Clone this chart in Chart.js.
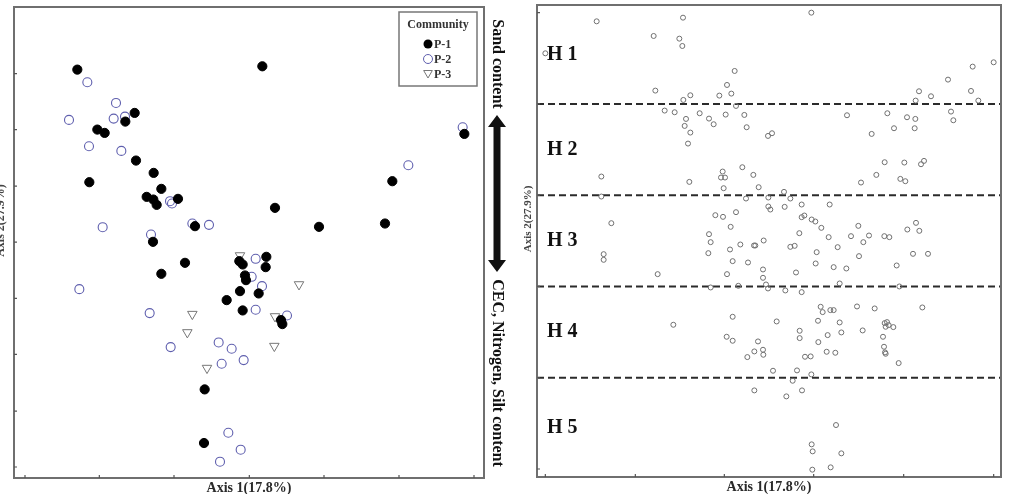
<!DOCTYPE html>
<html>
<head>
<meta charset="utf-8">
<title>NMS ordination of sites</title>
<script src="https://cdn.jsdelivr.net/npm/chart.js@4.4.1/dist/chart.umd.min.js"></script>
<style>
  html, body { margin: 0; padding: 0; background: #fff; }
  body { width: 1010px; height: 494px; position: relative; overflow: hidden; }
  #left { position: absolute; left: 0; top: 0; }
  #right { position: absolute; left: 515px; top: 0; }
</style>
</head>
<body>
<canvas id="left" width="515" height="494"></canvas>
<canvas id="right" width="495" height="494"></canvas>
<script>
/* global Chart */

// ---- left panel: sites by community (axis 1 / axis 2 scores) ----
const p1Sites = [
  [-5.18, 5.40], [0.37, 5.50], [-3.46, 4.10], [-3.74, 3.84], [-4.58, 3.60], [-4.36, 3.50],
  [6.43, 3.47], [-3.42, 2.67], [-2.89, 2.30], [-4.82, 2.02], [-2.66, 1.82], [4.27, 2.05],
  [-3.10, 1.58], [-2.90, 1.50], [-2.80, 1.34], [-2.16, 1.52], [0.75, 1.25], [-1.65, 0.70],
  [2.07, 0.68], [4.05, 0.78], [-2.91, 0.23], [-1.95, -0.40], [-2.66, -0.73], [-0.32, -0.35],
  [-0.22, -0.45], [0.49, -0.22], [0.47, -0.53], [-0.15, -0.78], [-0.12, -0.92], [-0.30, -1.25],
  [0.26, -1.32], [-0.70, -1.52], [-0.22, -1.83], [0.93, -2.12], [0.97, -2.24], [-1.36, -4.20],
  [-1.38, -5.81]
];
const p2Sites = [
  [-4.88, 5.02], [-4.02, 4.40], [-5.43, 3.89], [-4.09, 3.93], [-3.75, 3.99], [6.38, 3.67],
  [-4.83, 3.10], [-3.86, 2.96], [4.75, 2.53], [-2.40, 1.45], [-2.34, 1.38], [-4.42, 0.67],
  [-1.73, 0.78], [-1.23, 0.74], [-2.97, 0.45], [0.17, -0.28], [0.05, -0.82], [0.36, -1.10],
  [-5.12, -1.19], [-3.01, -1.91], [0.17, -1.81], [1.11, -1.98], [-2.38, -2.93], [-0.94, -2.79],
  [-0.55, -2.98], [-0.85, -3.43], [-0.19, -3.32], [-0.65, -5.50], [-0.28, -6.01], [-0.90, -6.37]
];
const p3Sites = [
  [-0.30, -0.18], [1.47, -1.05], [-1.73, -1.94], [-1.88, -2.49], [0.75, -2.01], [0.73, -2.90],
  [-1.29, -3.56]
];
const communityNames = ["P-1", "P-2", "P-3"];
const leftXRange = [-7.08, 7.02];
const leftYRange = [-6.86, 7.28];
const leftXTicks = [-6.75, -4.52, -2.28, -0.02, 2.22, 4.47, 6.72];
const leftYTicks = [5.28, 3.60, 1.90, 0.22, -1.47, -3.15, -4.85, -6.53];

// ---- right panel: plots grouped by habitat zone ----
const h1Plots = [
  [-8.05, 7.00], [-6.51, 7.96], [-3.92, 8.07], [-4.80, 7.52], [-4.03, 7.44], [-3.94, 7.22],
  [-0.07, 8.22], [-2.37, 6.47], [-2.60, 6.05], [-2.47, 5.79], [-2.83, 5.73], [-4.75, 5.88],
  [-3.91, 5.60], [-3.70, 5.74], [5.40, 6.73], [4.77, 6.60], [4.03, 6.21], [4.72, 5.87],
  [3.16, 5.86], [3.52, 5.71], [3.06, 5.58], [4.94, 5.58]
];
const h2Plots = [
  [-2.33, 5.42], [-4.47, 5.28], [-4.17, 5.23], [-3.83, 5.03], [-3.87, 4.82], [-3.70, 4.62],
  [-3.77, 4.29], [-3.42, 5.20], [-3.14, 5.04], [-3.00, 4.87], [-2.64, 5.16], [-2.08, 5.15],
  [-2.01, 4.78], [-1.37, 4.52], [-1.25, 4.60], [1.00, 5.14], [2.21, 5.20], [2.80, 5.08],
  [3.05, 5.03], [2.41, 4.75], [3.03, 4.75], [1.74, 4.58], [4.12, 5.25], [4.19, 4.99],
  [-6.37, 3.30], [-3.73, 3.14], [-2.73, 3.45], [-2.78, 3.27], [-2.66, 3.27], [-2.70, 2.95],
  [-2.14, 3.58], [-1.81, 3.35], [-1.65, 2.98], [2.13, 3.73], [2.72, 3.72], [3.22, 3.67],
  [3.31, 3.77], [1.88, 3.35], [1.42, 3.12], [2.60, 3.23], [2.75, 3.16]
];
const h3Plots = [
  [-6.37, 2.70], [-2.03, 2.64], [-1.36, 2.67], [-1.36, 2.40], [-1.30, 2.31], [-0.89, 2.84],
  [-0.70, 2.64], [-0.87, 2.39], [-6.07, 1.90], [-6.30, 0.97], [-6.30, 0.80], [-4.68, 0.37],
  [-2.95, 2.14], [-2.72, 2.09], [-2.33, 2.23], [-2.49, 1.79], [-3.14, 1.57], [-3.09, 1.33],
  [-3.16, 1.00], [-2.20, 1.26], [-1.79, 1.23], [-1.75, 1.23], [-1.50, 1.38], [-2.43, 0.76],
  [-2.51, 1.11], [-1.97, 0.72], [-2.60, 0.37], [-1.52, 0.51], [-1.52, 0.26], [-1.43, 0.06],
  [-1.37, -0.06], [-3.09, -0.03], [-2.26, 0.02], [-0.36, 2.46], [-0.36, 2.08], [-0.28, 2.13],
  [-0.06, 2.01], [0.05, 1.95], [0.23, 1.76], [-0.43, 1.60], [0.48, 2.46], [0.45, 1.48],
  [-0.70, 1.19], [-0.57, 1.22], [0.09, 1.03], [0.72, 1.18], [1.12, 1.51], [1.34, 1.82],
  [1.66, 1.53], [1.49, 1.33], [2.12, 1.51], [2.27, 1.48], [2.81, 1.71], [3.07, 1.91],
  [3.17, 1.67], [1.36, 0.91], [0.06, 0.69], [0.60, 0.58], [0.98, 0.54], [-0.53, 0.42],
  [2.98, 0.98], [3.43, 0.98], [2.49, 0.63], [0.78, 0.09], [-0.85, -0.12], [-0.36, -0.17],
  [2.57, 0.00]
];
const h4Plots = [
  [-4.21, -1.15], [-2.43, -0.91], [-2.61, -1.51], [-2.43, -1.63], [-1.67, -1.65], [-1.78, -1.95],
  [-1.52, -1.90], [-1.51, -2.05], [-1.99, -2.12], [-1.22, -2.53], [-1.78, -3.12], [-1.11, -1.05],
  [0.21, -0.61], [0.27, -0.77], [0.50, -0.71], [0.60, -0.71], [0.13, -1.03], [-0.42, -1.33],
  [-0.42, -1.55], [0.42, -1.46], [0.78, -1.08], [0.83, -1.38], [1.30, -0.60], [1.83, -0.66],
  [1.47, -1.32], [0.14, -1.67], [0.39, -1.96], [0.65, -1.99], [-0.26, -2.11], [-0.09, -2.10],
  [-0.50, -2.52], [-0.07, -2.64], [-0.63, -2.83], [-0.82, -3.30], [-0.35, -3.12], [2.13, -1.10],
  [2.20, -1.07], [2.25, -1.16], [2.39, -1.22], [2.16, -1.21], [2.08, -1.51], [2.11, -1.81],
  [2.14, -1.98], [2.16, -2.02], [2.55, -2.30], [3.26, -0.63]
];
const h5Plots = [
  [0.67, -4.16], [-0.06, -4.74], [-0.03, -4.95], [0.83, -5.01], [-0.04, -5.50], [0.51, -5.43]
];
const zoneNames = ["H 1", "H 2", "H 3", "H 4", "H 5"];
const zoneBreaks = [5.48, 2.74, 0, -2.74];
const rightXRange = [-8.30, 5.62];
const rightYRange = [-5.72, 8.45];
const rightXTicks = [-8.05, -5.35, -2.68, 0, 2.70, 5.40];
const rightYTicks = [8.22, 5.48, 2.74, 0, -2.74, -5.48];

const axis1Title = "Axis 1(17.8%)";
const axis2Title = "Axis 2(27.9%)";
const upperGradient = "Sand content";
const lowerGradient = "CEC, Nitrogen, Silt content";

const SERIF = '"Liberation Serif", "Times New Roman", "DejaVu Serif", serif';
const P2_BLUE = "#5f5fae";

function toPoints(pairs) {
  return pairs.map(p => ({ x: p[0], y: p[1] }));
}

function drawFrame(chart, xTicks, yTicks) {
  const { ctx, chartArea: a } = chart;
  const { x, y } = chart.scales;
  ctx.save();
  ctx.strokeStyle = "#6f6f6f";
  ctx.lineWidth = 2;
  ctx.strokeRect(a.left, a.top, a.right - a.left, a.bottom - a.top);
  ctx.strokeStyle = "#555";
  ctx.lineWidth = 1.2;
  ctx.beginPath();
  xTicks.forEach(v => {
    const px = x.getPixelForValue(v);
    ctx.moveTo(px, a.bottom);
    ctx.lineTo(px, a.bottom - 3);
  });
  yTicks.forEach(v => {
    const py = y.getPixelForValue(v);
    ctx.moveTo(a.left, py);
    ctx.lineTo(a.left + 3, py);
  });
  ctx.stroke();
  ctx.restore();
}

function drawTitles(chart, yTitleX, yTitleSize) {
  const { ctx, chartArea: a } = chart;
  ctx.save();
  ctx.fillStyle = "#2a2a2a";
  ctx.font = `bold 14px ${SERIF}`;
  ctx.textAlign = "center";
  ctx.textBaseline = "middle";
  ctx.fillText(axis1Title, (a.left + a.right) / 2, a.bottom + 10);
  ctx.translate(yTitleX, (a.top + a.bottom) / 2 - 22);
  ctx.rotate(-Math.PI / 2);
  ctx.fillStyle = "#444";
  ctx.font = `bold ${yTitleSize}px ${SERIF}`;
  ctx.fillText(axis2Title, 0, 0);
  ctx.restore();
}

function drawTriangle(ctx, cx, cy, r) {
  ctx.beginPath();
  ctx.moveTo(cx - r * 0.87, cy - r * 0.5);
  ctx.lineTo(cx + r * 0.87, cy - r * 0.5);
  ctx.lineTo(cx, cy + r);
  ctx.closePath();
  ctx.stroke();
}

function drawLegend(chart) {
  const { ctx, chartArea: a } = chart;
  const left = a.right - 85, top = a.top + 5, w = 78, h = 74;
  ctx.save();
  ctx.fillStyle = "#fff";
  ctx.fillRect(left, top, w, h);
  ctx.strokeStyle = "#777";
  ctx.lineWidth = 1.5;
  ctx.strokeRect(left, top, w, h);
  ctx.fillStyle = "#333";
  ctx.font = `bold 12px ${SERIF}`;
  ctx.textAlign = "center";
  ctx.textBaseline = "middle";
  ctx.fillText("Community", left + w / 2, top + 13);
  ctx.textAlign = "left";
  communityNames.forEach((name, i) => {
    const cy = top + 32 + i * 15;
    const cx = left + 29;
    if (i === 0) {
      ctx.fillStyle = "#000";
      ctx.beginPath();
      ctx.arc(cx, cy, 4.5, 0, Math.PI * 2);
      ctx.fill();
    } else if (i === 1) {
      ctx.strokeStyle = P2_BLUE;
      ctx.lineWidth = 1;
      ctx.beginPath();
      ctx.arc(cx, cy, 4.5, 0, Math.PI * 2);
      ctx.stroke();
    } else {
      ctx.strokeStyle = "#777";
      ctx.lineWidth = 1;
      drawTriangle(ctx, cx, cy - 1, 5);
    }
    ctx.fillStyle = "#333";
    ctx.fillText(name, cx + 6, cy + 1);
  });
  ctx.restore();
}

function drawGradient(chart) {
  const { ctx, chartArea: a } = chart;
  const cx = a.right + 13;
  ctx.save();
  ctx.fillStyle = "#111";
  ctx.font = `bold 16px ${SERIF}`;
  ctx.textAlign = "center";
  ctx.textBaseline = "middle";
  [[upperGradient, a.top + 57], [lowerGradient, a.top + 366]].forEach(([txt, cy]) => {
    ctx.save();
    ctx.translate(cx, cy);
    ctx.rotate(Math.PI / 2);
    ctx.fillText(txt, 0, 0);
    ctx.restore();
  });
  // double-headed arrow between the two gradient labels
  const y0 = a.top + 108, y1 = a.top + 265, head = 12, hw = 9, sw = 3.5;
  ctx.beginPath();
  ctx.moveTo(cx, y0);
  ctx.lineTo(cx + hw, y0 + head);
  ctx.lineTo(cx + sw, y0 + head);
  ctx.lineTo(cx + sw, y1 - head);
  ctx.lineTo(cx + hw, y1 - head);
  ctx.lineTo(cx, y1);
  ctx.lineTo(cx - hw, y1 - head);
  ctx.lineTo(cx - sw, y1 - head);
  ctx.lineTo(cx - sw, y0 + head);
  ctx.lineTo(cx - hw, y0 + head);
  ctx.closePath();
  ctx.fill();
  ctx.restore();
}

function drawZones(chart) {
  const { ctx, chartArea: a } = chart;
  const y = chart.scales.y;
  ctx.save();
  ctx.strokeStyle = "#2b2b2b";
  ctx.lineWidth = 2;
  ctx.setLineDash([7, 4]);
  ctx.beginPath();
  zoneBreaks.forEach(v => {
    const py = y.getPixelForValue(v);
    ctx.moveTo(a.left, py);
    ctx.lineTo(a.right, py);
  });
  ctx.stroke();
  ctx.setLineDash([]);
  const edges = [rightYRange[1], ...zoneBreaks, rightYRange[0]];
  ctx.fillStyle = "#111";
  ctx.font = `bold 20px ${SERIF}`;
  ctx.textAlign = "left";
  ctx.textBaseline = "middle";
  zoneNames.forEach((name, i) => {
    const mid = (edges[i] + edges[i + 1]) / 2;
    ctx.fillText(name, a.left + 10, y.getPixelForValue(mid));
  });
  ctx.restore();
}

function baseOptions(xRange, yRange, padding) {
  return {
    responsive: false,
    animation: false,
    layout: { padding },
    plugins: { legend: { display: false }, tooltip: { enabled: false } },
    scales: {
      x: { type: "linear", display: false, min: xRange[0], max: xRange[1] },
      y: { type: "linear", display: false, min: yRange[0], max: yRange[1] }
    }
  };
}

function buildLeft() {
  return new Chart(document.getElementById("left"), {
    type: "scatter",
    data: {
      datasets: [
        {
          label: communityNames[0], data: toPoints(p1Sites),
          pointStyle: "circle", pointRadius: 4.6, pointBorderWidth: 1,
          pointBackgroundColor: "#000", pointBorderColor: "#000"
        },
        {
          label: communityNames[1], data: toPoints(p2Sites),
          pointStyle: "circle", pointRadius: 4.5, pointBorderWidth: 1.1,
          pointBackgroundColor: "rgba(0,0,0,0)", pointBorderColor: P2_BLUE
        },
        {
          label: communityNames[2], data: toPoints(p3Sites),
          pointStyle: "triangle", pointRotation: 180, pointRadius: 5.5, pointBorderWidth: 1,
          pointBackgroundColor: "rgba(0,0,0,0)", pointBorderColor: "#777"
        }
      ]
    },
    options: baseOptions(leftXRange, leftYRange, { left: 14, top: 7, right: 31, bottom: 16 }),
    plugins: [{
      id: "leftDecor",
      afterDraw(chart) {
        drawFrame(chart, leftXTicks, leftYTicks);
        drawLegend(chart);
        drawGradient(chart);
        drawTitles(chart, 1, 12);
      }
    }]
  });
}

function buildRight() {
  const plots = [...h1Plots, ...h2Plots, ...h3Plots, ...h4Plots, ...h5Plots];
  return new Chart(document.getElementById("right"), {
    type: "scatter",
    data: {
      datasets: [{
        label: "Plots", data: toPoints(plots),
        pointStyle: "circle", pointRadius: 2.5, pointBorderWidth: 1,
        pointBackgroundColor: "rgba(0,0,0,0)", pointBorderColor: "#707070"
      }]
    },
    options: baseOptions(rightXRange, rightYRange, { left: 22, top: 5, right: 9, bottom: 17 }),
    plugins: [{
      id: "rightDecor",
      beforeDatasetsDraw(chart) {
        drawZones(chart);
      },
      afterDraw(chart) {
        drawFrame(chart, rightXTicks, rightYTicks);
        drawTitles(chart, 13, 11);
      }
    }]
  });
}

function main() {
  buildLeft();
  buildRight();
}

document.addEventListener("DOMContentLoaded", main);
</script>
</body>
</html>
